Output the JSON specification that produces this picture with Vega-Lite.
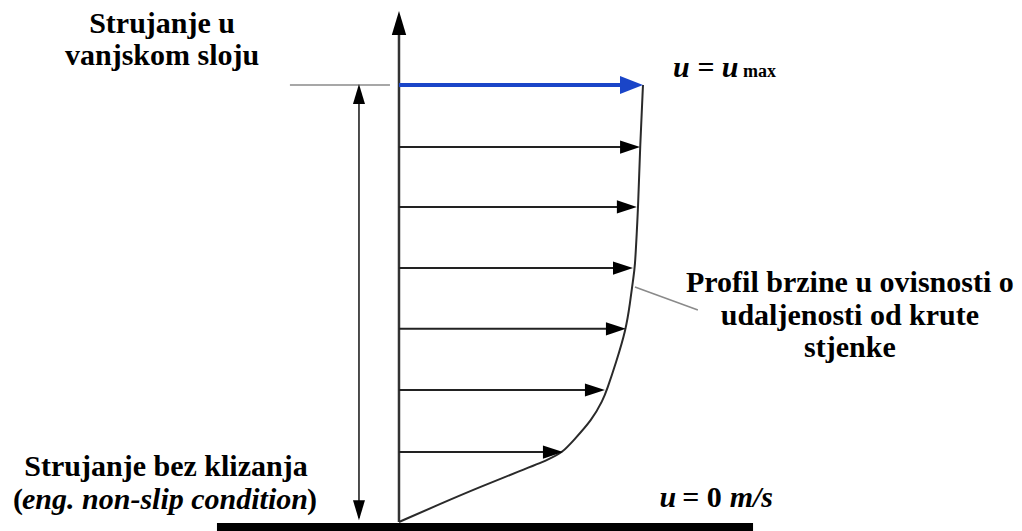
{
  "$schema": "https://vega.github.io/schema/vega-lite/v6.json",
  "width": 1022,
  "height": 531,
  "autosize": {"type": "fit", "contains": "padding"},
  "padding": 0,
  "background": "white",
  "config": {"view": {"stroke": null}},
  "datasets": {
    "profile": [
      {"u": 0, "y": 0},
      {"u": 0.168, "y": 0.0412},
      {"u": 0.332, "y": 0.0801},
      {"u": 0.496, "y": 0.1167},
      {"u": 0.619, "y": 0.1442},
      {"u": 0.672, "y": 0.1602},
      {"u": 0.713, "y": 0.1854},
      {"u": 0.791, "y": 0.2334},
      {"u": 0.836, "y": 0.2792},
      {"u": 0.852, "y": 0.3021},
      {"u": 0.889, "y": 0.3638},
      {"u": 0.93, "y": 0.4394},
      {"u": 0.947, "y": 0.5011},
      {"u": 0.959, "y": 0.5538},
      {"u": 0.967, "y": 0.5812},
      {"u": 0.975, "y": 0.6682},
      {"u": 0.98, "y": 0.7208},
      {"u": 0.988, "y": 0.8581},
      {"u": 1.0, "y": 1.0}
    ],
    "velocity": [
      {"y": 1.0, "u0": 0, "u": 1.0, "edge": "outer"},
      {"y": 0.858, "u0": 0, "u": 0.988, "edge": "inner"},
      {"y": 0.721, "u0": 0, "u": 0.975, "edge": "inner"},
      {"y": 0.581, "u0": 0, "u": 0.959, "edge": "inner"},
      {"y": 0.442, "u0": 0, "u": 0.93, "edge": "inner"},
      {"y": 0.302, "u0": 0, "u": 0.844, "edge": "inner"},
      {"y": 0.16, "u0": 0, "u": 0.672, "edge": "inner"}
    ],
    "guides": [
      {"part": "wall", "u": -0.746, "u2": 1.451, "y": -0.0023, "y2": -0.0206},
      {"part": "edge", "u": -0.447, "u2": -0.037, "y": 1.0, "y2": 1.0},
      {"part": "leader", "u": 0.967, "u2": 1.225, "y": 0.5378, "y2": 0.4851},
      {"part": "axis", "u": 0, "u2": 0, "y": 0, "y2": 1.15},
      {"part": "delta", "u": -0.164, "u2": -0.164, "y": 0.01, "y2": 0.99}
    ],
    "heads": [
      {"part": "axisTip", "u": 0, "y": 1.1693},
      {"part": "deltaTop", "u": -0.164, "y": 1.002},
      {"part": "deltaBottom", "u": -0.164, "y": 0.004}
    ],
    "labels": [
      {"text": "Strujanje u", "u": -0.971, "y": 1.119, "style": "cb"},
      {"text": "vanjskom sloju", "u": -0.971, "y": 1.0458, "style": "cb"},
      {"text": "Profil brzine u ovisnosti o", "u": 1.848, "y": 0.5263, "style": "cb"},
      {"text": "udaljenosti od krute", "u": 1.848, "y": 0.4508, "style": "cb"},
      {"text": "stjenke", "u": 1.848, "y": 0.3776, "style": "cb"},
      {"text": "Strujanje bez klizanja", "u": -0.955, "y": 0.1053, "style": "cb"},
      {"text": "= 0", "u": 1.242, "y": 0.0343, "style": "cb"},
      {"text": "eng. non-slip condition", "u": -0.959, "y": 0.0297, "style": "ci"},
      {"text": "(", "u": -1.541, "y": 0.0297, "style": "rb"},
      {"text": ")", "u": -0.377, "y": 0.0297, "style": "lb"},
      {"text": "u = u", "u": 1.123, "y": 1.0183, "style": "li"},
      {"text": "u", "u": 1.068, "y": 0.0343, "style": "li"},
      {"text": "m/s", "u": 1.533, "y": 0.0343, "style": "ri"},
      {"text": "max", "u": 1.41, "y": 1.0183, "style": "ls"}
    ]
  },
  "layer": [
    {
      "data": {"name": "guides"},
      "transform": [{"filter": "datum.part === 'wall'"}],
      "mark": {"type": "rect", "color": "black"},
      "encoding": {
        "x": {"field": "u", "type": "quantitative", "scale": {"domain": [-1.6352, 2.5533], "nice": false, "zero": false}, "axis": null},
        "x2": {"field": "u2"},
        "y": {"field": "y", "type": "quantitative", "scale": {"domain": [-0.0206, 1.1945], "nice": false, "zero": false}, "axis": null},
        "y2": {"field": "y2"}
      }
    },
    {
      "data": {"name": "guides"},
      "transform": [{"filter": "datum.part === 'edge' || datum.part === 'leader'"}],
      "mark": {"type": "rule", "color": "#8a8a8a", "strokeWidth": 1.5},
      "encoding": {
        "x": {"field": "u", "type": "quantitative", "scale": {"domain": [-1.6352, 2.5533], "nice": false, "zero": false}, "axis": null},
        "x2": {"field": "u2"},
        "y": {"field": "y", "type": "quantitative", "scale": {"domain": [-0.0206, 1.1945], "nice": false, "zero": false}, "axis": null},
        "y2": {"field": "y2"}
      }
    },
    {
      "data": {"name": "guides"},
      "transform": [{"filter": "datum.part === 'axis'"}],
      "mark": {"type": "rule", "color": "#333333", "strokeWidth": 2.5},
      "encoding": {
        "x": {"field": "u", "type": "quantitative", "scale": {"domain": [-1.6352, 2.5533], "nice": false, "zero": false}, "axis": null},
        "x2": {"field": "u2"},
        "y": {"field": "y", "type": "quantitative", "scale": {"domain": [-0.0206, 1.1945], "nice": false, "zero": false}, "axis": null},
        "y2": {"field": "y2"}
      }
    },
    {
      "data": {"name": "guides"},
      "transform": [{"filter": "datum.part === 'delta'"}],
      "mark": {"type": "rule", "color": "#222222", "strokeWidth": 1.6},
      "encoding": {
        "x": {"field": "u", "type": "quantitative", "scale": {"domain": [-1.6352, 2.5533], "nice": false, "zero": false}, "axis": null},
        "x2": {"field": "u2"},
        "y": {"field": "y", "type": "quantitative", "scale": {"domain": [-0.0206, 1.1945], "nice": false, "zero": false}, "axis": null},
        "y2": {"field": "y2"}
      }
    },
    {
      "data": {"name": "heads"},
      "transform": [{"filter": "datum.part === 'axisTip'"}],
      "mark": {"type": "point", "shape": "M0,0L-0.3,1L0.3,1Z", "size": 2304, "filled": true, "opacity": 1, "color": "black", "strokeWidth": 0},
      "encoding": {
        "x": {"field": "u", "type": "quantitative", "scale": {"domain": [-1.6352, 2.5533], "nice": false, "zero": false}, "axis": null},
        "y": {"field": "y", "type": "quantitative", "scale": {"domain": [-0.0206, 1.1945], "nice": false, "zero": false}, "axis": null}
      }
    },
    {
      "data": {"name": "heads"},
      "transform": [{"filter": "datum.part === 'deltaTop'"}],
      "mark": {"type": "point", "shape": "M0,0L-0.3,1L0.3,1Z", "size": 1600, "filled": true, "opacity": 1, "color": "black", "strokeWidth": 0},
      "encoding": {
        "x": {"field": "u", "type": "quantitative", "scale": {"domain": [-1.6352, 2.5533], "nice": false, "zero": false}, "axis": null},
        "y": {"field": "y", "type": "quantitative", "scale": {"domain": [-0.0206, 1.1945], "nice": false, "zero": false}, "axis": null}
      }
    },
    {
      "data": {"name": "heads"},
      "transform": [{"filter": "datum.part === 'deltaBottom'"}],
      "mark": {"type": "point", "shape": "M0,0L-0.3,-1L0.3,-1Z", "size": 1600, "filled": true, "opacity": 1, "color": "black", "strokeWidth": 0},
      "encoding": {
        "x": {"field": "u", "type": "quantitative", "scale": {"domain": [-1.6352, 2.5533], "nice": false, "zero": false}, "axis": null},
        "y": {"field": "y", "type": "quantitative", "scale": {"domain": [-0.0206, 1.1945], "nice": false, "zero": false}, "axis": null}
      }
    },
    {
      "data": {"name": "profile"},
      "mark": {"type": "line", "color": "#2a2a2a", "strokeWidth": 2, "interpolate": "basis"},
      "encoding": {
        "x": {"field": "u", "type": "quantitative", "scale": {"domain": [-1.6352, 2.5533], "nice": false, "zero": false}, "axis": null},
        "y": {"field": "y", "type": "quantitative", "scale": {"domain": [-0.0206, 1.1945], "nice": false, "zero": false}, "axis": null}
      }
    },
    {
      "data": {"name": "velocity"},
      "transform": [{"filter": "datum.edge === 'inner'"}],
      "mark": {"type": "rule", "color": "#222222", "strokeWidth": 2, "x2Offset": -10},
      "encoding": {
        "x": {"field": "u0", "type": "quantitative", "scale": {"domain": [-1.6352, 2.5533], "nice": false, "zero": false}, "axis": null},
        "x2": {"field": "u"},
        "y": {"field": "y", "type": "quantitative", "scale": {"domain": [-0.0206, 1.1945], "nice": false, "zero": false}, "axis": null}
      }
    },
    {
      "data": {"name": "velocity"},
      "transform": [{"filter": "datum.edge === 'inner'"}],
      "mark": {"type": "point", "shape": "M0,0L-1,-0.33L-1,0.33Z", "size": 1600, "filled": true, "opacity": 1, "color": "black", "strokeWidth": 0},
      "encoding": {
        "x": {"field": "u", "type": "quantitative", "scale": {"domain": [-1.6352, 2.5533], "nice": false, "zero": false}, "axis": null},
        "y": {"field": "y", "type": "quantitative", "scale": {"domain": [-0.0206, 1.1945], "nice": false, "zero": false}, "axis": null}
      }
    },
    {
      "data": {"name": "velocity"},
      "transform": [{"filter": "datum.edge === 'outer'"}],
      "mark": {"type": "rule", "color": "#1a45c8", "strokeWidth": 4, "x2Offset": -12},
      "encoding": {
        "x": {"field": "u0", "type": "quantitative", "scale": {"domain": [-1.6352, 2.5533], "nice": false, "zero": false}, "axis": null},
        "x2": {"field": "u"},
        "y": {"field": "y", "type": "quantitative", "scale": {"domain": [-0.0206, 1.1945], "nice": false, "zero": false}, "axis": null}
      }
    },
    {
      "data": {"name": "velocity"},
      "transform": [{"filter": "datum.edge === 'outer'"}],
      "mark": {"type": "point", "shape": "M0,0L-1,-0.39L-1,0.39Z", "size": 2116, "filled": true, "opacity": 1, "color": "#1a45c8", "strokeWidth": 0},
      "encoding": {
        "x": {"field": "u", "type": "quantitative", "scale": {"domain": [-1.6352, 2.5533], "nice": false, "zero": false}, "axis": null},
        "y": {"field": "y", "type": "quantitative", "scale": {"domain": [-0.0206, 1.1945], "nice": false, "zero": false}, "axis": null}
      }
    },
    {
      "data": {"name": "labels"},
      "transform": [{"filter": "datum.style === 'cb'"}],
      "mark": {"type": "text", "font": "Liberation Serif", "fontSize": 30, "fontWeight": "bold", "align": "center", "baseline": "alphabetic", "color": "black"},
      "encoding": {
        "x": {"field": "u", "type": "quantitative", "scale": {"domain": [-1.6352, 2.5533], "nice": false, "zero": false}, "axis": null},
        "y": {"field": "y", "type": "quantitative", "scale": {"domain": [-0.0206, 1.1945], "nice": false, "zero": false}, "axis": null},
        "text": {"field": "text"}
      }
    },
    {
      "data": {"name": "labels"},
      "transform": [{"filter": "datum.style === 'ci'"}],
      "mark": {"type": "text", "font": "Liberation Serif", "fontSize": 30, "fontWeight": "bold", "fontStyle": "italic", "align": "center", "baseline": "alphabetic", "color": "black"},
      "encoding": {
        "x": {"field": "u", "type": "quantitative", "scale": {"domain": [-1.6352, 2.5533], "nice": false, "zero": false}, "axis": null},
        "y": {"field": "y", "type": "quantitative", "scale": {"domain": [-0.0206, 1.1945], "nice": false, "zero": false}, "axis": null},
        "text": {"field": "text"}
      }
    },
    {
      "data": {"name": "labels"},
      "transform": [{"filter": "datum.style === 'rb'"}],
      "mark": {"type": "text", "font": "Liberation Serif", "fontSize": 30, "fontWeight": "bold", "align": "right", "baseline": "alphabetic", "color": "black"},
      "encoding": {
        "x": {"field": "u", "type": "quantitative", "scale": {"domain": [-1.6352, 2.5533], "nice": false, "zero": false}, "axis": null},
        "y": {"field": "y", "type": "quantitative", "scale": {"domain": [-0.0206, 1.1945], "nice": false, "zero": false}, "axis": null},
        "text": {"field": "text"}
      }
    },
    {
      "data": {"name": "labels"},
      "transform": [{"filter": "datum.style === 'lb'"}],
      "mark": {"type": "text", "font": "Liberation Serif", "fontSize": 30, "fontWeight": "bold", "align": "left", "baseline": "alphabetic", "color": "black"},
      "encoding": {
        "x": {"field": "u", "type": "quantitative", "scale": {"domain": [-1.6352, 2.5533], "nice": false, "zero": false}, "axis": null},
        "y": {"field": "y", "type": "quantitative", "scale": {"domain": [-0.0206, 1.1945], "nice": false, "zero": false}, "axis": null},
        "text": {"field": "text"}
      }
    },
    {
      "data": {"name": "labels"},
      "transform": [{"filter": "datum.style === 'li'"}],
      "mark": {"type": "text", "font": "Liberation Serif", "fontSize": 30, "fontWeight": "bold", "fontStyle": "italic", "align": "left", "baseline": "alphabetic", "color": "black"},
      "encoding": {
        "x": {"field": "u", "type": "quantitative", "scale": {"domain": [-1.6352, 2.5533], "nice": false, "zero": false}, "axis": null},
        "y": {"field": "y", "type": "quantitative", "scale": {"domain": [-0.0206, 1.1945], "nice": false, "zero": false}, "axis": null},
        "text": {"field": "text"}
      }
    },
    {
      "data": {"name": "labels"},
      "transform": [{"filter": "datum.style === 'ri'"}],
      "mark": {"type": "text", "font": "Liberation Serif", "fontSize": 30, "fontWeight": "bold", "fontStyle": "italic", "align": "right", "baseline": "alphabetic", "color": "black"},
      "encoding": {
        "x": {"field": "u", "type": "quantitative", "scale": {"domain": [-1.6352, 2.5533], "nice": false, "zero": false}, "axis": null},
        "y": {"field": "y", "type": "quantitative", "scale": {"domain": [-0.0206, 1.1945], "nice": false, "zero": false}, "axis": null},
        "text": {"field": "text"}
      }
    },
    {
      "data": {"name": "labels"},
      "transform": [{"filter": "datum.style === 'ls'"}],
      "mark": {"type": "text", "font": "Liberation Serif", "fontSize": 18, "fontWeight": "bold", "align": "left", "baseline": "alphabetic", "color": "black"},
      "encoding": {
        "x": {"field": "u", "type": "quantitative", "scale": {"domain": [-1.6352, 2.5533], "nice": false, "zero": false}, "axis": null},
        "y": {"field": "y", "type": "quantitative", "scale": {"domain": [-0.0206, 1.1945], "nice": false, "zero": false}, "axis": null},
        "text": {"field": "text"}
      }
    }
  ]
}
